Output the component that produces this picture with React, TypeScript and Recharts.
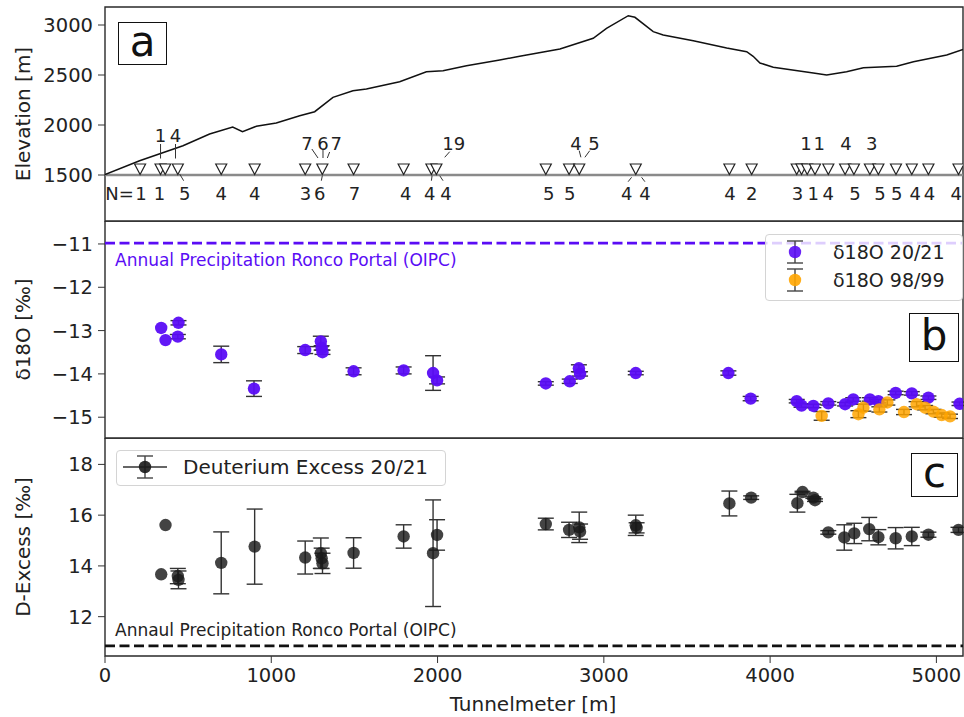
import React from 'react';
import {
  ComposedChart,
  Line,
  Scatter,
  XAxis,
  YAxis,
  ReferenceLine,
  ReferenceArea,
  ErrorBar,
} from 'recharts';

const FONT = '"DejaVu Sans", Verdana, sans-serif';
const INK = '#222';
const PURPLE = '#5a0cf5';
const ORANGE = '#ffa500';

const X_MAX = 5160;
const X_TICKS = [0, 1000, 2000, 3000, 4000, 5000];
const ELEV_TICKS = [1500, 2000, 2500, 3000];
const D18O_TICKS = [-15, -14, -13, -12, -11];
const DEX_TICKS = [12, 14, 16, 18];

// terrain surface above the tunnel axis [m a.s.l.]
const profile = [
  { x: 0, y: 1505 }, { x: 208, y: 1643 }, { x: 469, y: 1793 }, { x: 629, y: 1910 },
  { x: 768, y: 1980 }, { x: 827, y: 1933 }, { x: 910, y: 1987 }, { x: 1030, y: 2020 },
  { x: 1171, y: 2093 }, { x: 1261, y: 2133 }, { x: 1371, y: 2277 }, { x: 1491, y: 2343 },
  { x: 1572, y: 2360 }, { x: 1772, y: 2433 }, { x: 1933, y: 2533 }, { x: 2033, y: 2543 },
  { x: 2174, y: 2593 }, { x: 2374, y: 2650 }, { x: 2494, y: 2687 }, { x: 2736, y: 2760 },
  { x: 2936, y: 2867 }, { x: 3016, y: 2967 }, { x: 3147, y: 3093 }, { x: 3187, y: 3077 },
  { x: 3297, y: 2933 }, { x: 3357, y: 2900 }, { x: 3538, y: 2843 }, { x: 3739, y: 2770 },
  { x: 3859, y: 2733 }, { x: 3898, y: 2687 }, { x: 3939, y: 2620 }, { x: 4019, y: 2577 },
  { x: 4260, y: 2520 }, { x: 4340, y: 2500 }, { x: 4460, y: 2533 }, { x: 4561, y: 2573 },
  { x: 4761, y: 2587 }, { x: 4862, y: 2633 }, { x: 5062, y: 2700 }, { x: 5160, y: 2755 },
];

// sampling sites (tunnelmeter)
const sites = [
  211, 334, 362, 438, 699, 900, 1204, 1307, 1495, 1796, 1963, 1993, 2651, 2791, 2852, 3192,
  3755, 3889, 4160, 4189, 4223, 4270, 4350, 4451, 4504, 4600, 4651, 4757, 4852, 4952, 5133,
];
const SITE_Y = 1560;

// number of samples per site
const countsBelow = [
  { x: 87, t: 'N=' }, { x: 217, t: '1' }, { x: 328, t: '1' }, { x: 479, t: '5' },
  { x: 699, t: '4' }, { x: 900, t: '4' }, { x: 1206, t: '3' }, { x: 1291, t: '6' },
  { x: 1501, t: '7' }, { x: 1808, t: '4' }, { x: 1953, t: '4' }, { x: 2050, t: '4' },
  { x: 2669, t: '5' }, { x: 2795, t: '5' }, { x: 3137, t: '4' }, { x: 3247, t: '4' },
  { x: 3759, t: '4' }, { x: 3889, t: '2' }, { x: 4164, t: '3' }, { x: 4260, t: '1' },
  { x: 4350, t: '4' }, { x: 4510, t: '5' }, { x: 4661, t: '5' }, { x: 4761, t: '5' },
  { x: 4872, t: '4' }, { x: 4958, t: '4' }, { x: 5120, t: '4' },
];
const countsAboveHigh = [{ x: 334, t: '1' }, { x: 424, t: '4' }];
const countsAbove = [
  { x: 1214, t: '7' }, { x: 1311, t: '6' }, { x: 1391, t: '7' }, { x: 2097, t: '19' },
  { x: 2832, t: '4' }, { x: 2940, t: '5' }, { x: 4215, t: '1' }, { x: 4296, t: '1' },
  { x: 4456, t: '4' }, { x: 4611, t: '3' },
];
const ROW_BELOW = 1320;
const ROW_ABOVE = 1820;
const ROW_ABOVE_HIGH = 1900;

// leader lines [x1, y1, x2, y2]
const leaders = [
  [334, 1810, 334, 1665], [424, 1810, 424, 1665],
  [1244, 1760, 1281, 1670], [1311, 1760, 1311, 1670], [1351, 1730, 1337, 1670],
  [2073, 1733, 2043, 1677], [2852, 1743, 2862, 1677], [2915, 1743, 2886, 1677],
  [449, 1510, 473, 1443], [1307, 1493, 1301, 1443], [1967, 1493, 1963, 1443],
  [2013, 1493, 2033, 1443], [3167, 1477, 3146, 1433], [3227, 1477, 3247, 1433],
];

// d18O 2020/21 [permil], e = std
const d18O2021 = [
  { x: 442, y: -12.82, e: 0.05 }, { x: 438, y: -13.14, e: 0.05 }, { x: 699, y: -13.55, e: 0.19 },
  { x: 896, y: -14.34, e: 0.18 }, { x: 1204, y: -13.45, e: 0.08 }, { x: 1298, y: -13.25, e: 0.12 },
  { x: 1303, y: -13.4, e: 0.05 }, { x: 1308, y: -13.5, e: 0.05 }, { x: 1495, y: -13.94, e: 0.08 },
  { x: 1796, y: -13.92, e: 0.08 }, { x: 1973, y: -13.98, e: 0.4 }, { x: 1997, y: -14.15, e: 0.08 },
  { x: 2651, y: -14.22, e: 0.04 }, { x: 2795, y: -14.17, e: 0.05 }, { x: 2850, y: -13.87, e: 0.08 },
  { x: 2857, y: -14.0, e: 0.05 }, { x: 3192, y: -13.98, e: 0.04 }, { x: 3749, y: -13.98, e: 0.05 },
  { x: 3883, y: -14.57, e: 0.05 }, { x: 4160, y: -14.63, e: 0.04 }, { x: 4189, y: -14.73, e: 0.04 },
  { x: 4260, y: -14.74, e: 0.04 }, { x: 4350, y: -14.68, e: 0.04 }, { x: 4451, y: -14.7, e: 0.04 },
  { x: 4500, y: -14.59, e: 0.04 }, { x: 4600, y: -14.59, e: 0.04 }, { x: 4651, y: -14.63, e: 0.04 },
  { x: 4755, y: -14.44, e: 0.04 }, { x: 4852, y: -14.45, e: 0.04 }, { x: 4952, y: -14.55, e: 0.04 },
  { x: 5139, y: -14.69, e: 0.04 },
];
const d18O2021Single = [{ x: 338, y: -12.94 }, { x: 364, y: -13.22 }];

// d18O 1998/99
const d18O9899 = [
  { x: 4310, y: -14.97, e: 0.1 }, { x: 4531, y: -14.93, e: 0.08 }, { x: 4561, y: -14.78, e: 0.08 },
  { x: 4657, y: -14.82, e: 0.06 }, { x: 4705, y: -14.66, e: 0.06 }, { x: 4805, y: -14.88, e: 0.06 },
  { x: 4881, y: -14.7, e: 0.06 }, { x: 4932, y: -14.78, e: 0.05 }, { x: 4982, y: -14.87, e: 0.05 },
  { x: 5032, y: -14.95, e: 0.05 }, { x: 5082, y: -14.98, e: 0.05 },
];

// deuterium excess 2020/21
const dex2021 = [
  { x: 438, y: 13.6, e: 0.3 }, { x: 442, y: 13.45, e: 0.35 }, { x: 699, y: 14.12, e: 1.22 },
  { x: 900, y: 14.76, e: 1.48 }, { x: 1204, y: 14.33, e: 0.65 }, { x: 1298, y: 14.5, e: 0.6 },
  { x: 1303, y: 14.3, e: 0.4 }, { x: 1308, y: 14.1, e: 0.4 }, { x: 1495, y: 14.51, e: 0.6 },
  { x: 1796, y: 15.16, e: 0.46 }, { x: 1973, y: 14.5, e: 2.1 }, { x: 1997, y: 15.22, e: 0.6 },
  { x: 2651, y: 15.65, e: 0.23 }, { x: 2791, y: 15.42, e: 0.3 }, { x: 2852, y: 15.52, e: 0.6 },
  { x: 2857, y: 15.35, e: 0.3 }, { x: 3192, y: 15.6, e: 0.4 }, { x: 3197, y: 15.5, e: 0.2 },
  { x: 3755, y: 16.46, e: 0.49 }, { x: 3886, y: 16.69, e: 0.07 }, { x: 4164, y: 16.47, e: 0.35 },
  { x: 4195, y: 16.91, e: 0.03 }, { x: 4260, y: 16.69, e: 0.03 }, { x: 4270, y: 16.59, e: 0.05 },
  { x: 4350, y: 15.32, e: 0.07 }, { x: 4446, y: 15.12, e: 0.5 }, { x: 4506, y: 15.28, e: 0.4 },
  { x: 4596, y: 15.45, e: 0.46 }, { x: 4651, y: 15.13, e: 0.3 }, { x: 4755, y: 15.09, e: 0.42 },
  { x: 4852, y: 15.16, e: 0.36 }, { x: 4952, y: 15.23, e: 0.1 }, { x: 5133, y: 15.42, e: 0.1 },
];
const dex2021Single = [{ x: 338, y: 13.67 }, { x: 364, y: 15.61 }];

const OIPC_D18O = -10.98;
const OIPC_DEX = 10.85;

const ELEV_DOMAIN = [1040, 3180];
const D18O_DOMAIN = [-15.48, -10.47];
const DEX_DOMAIN = [10.45, 19.04];

const minus = (v: number) => (v < 0 ? '\u2212' + Math.abs(v) : String(v));

const tickStyle = { fontSize: 19.5, fill: INK, fontFamily: FONT };

const yLabel = (text: string) => (props: any) => {
  const vb = props.viewBox || {};
  const cx = (vb.x || 0) + 22.5;
  const cy = (vb.y || 0) + (vb.height || 0) / 2;
  return (
    <text x={cx} y={cy} transform={`rotate(-90 ${cx} ${cy})`} textAnchor="middle"
      dominantBaseline="central" fontSize={20} fill={INK} fontFamily={FONT}>{text}</text>
  );
};

const Dot = (fill: string, opacity: number) => (p: any) =>
  <circle cx={p.cx} cy={p.cy} r={6.2} fill={fill} fillOpacity={opacity} />;

const Tri = (p: any) => (
  <polygon points={`${p.cx - 5.5},${p.cy - 5} ${p.cx + 5.5},${p.cy - 5} ${p.cx},${p.cy + 5.5}`}
    fill="#fff" stroke={INK} strokeWidth={1.2} />
);

const CountText = (p: any) => (
  <text x={p.cx} y={p.cy} textAnchor="middle" dominantBaseline="central" fontSize={18}
    fill={INK} fontFamily={FONT}>{p.payload.t}</text>
);

const frame = (lo: number, hi: number) => (
  <ReferenceArea x1={0} x2={X_MAX} y1={lo} y2={hi} fill="none" stroke="#2a2a2a"
    strokeWidth={1.4} ifOverflow="visible" />
);

const PanelTag = ({ t, left, top, w, h }: any) => (
  <div style={{
    position: 'absolute', left, top, width: w, height: h, boxSizing: 'border-box',
    border: '1.8px solid #111', background: '#fff', fontSize: 42, lineHeight: `${h - 6}px`,
    textAlign: 'center', color: '#111', fontFamily: FONT,
  }}>{t}</div>
);

const ErrMarker = ({ color, line }: { color: string; line?: boolean }) => (
  <svg width={46} height={26} style={{ display: 'block' }}>
    {line ? <line x1={1} y1={13} x2={45} y2={13} stroke="#333" strokeWidth={1.6} /> : null}
    <line x1={23} y1={2} x2={23} y2={24} stroke="#444" strokeWidth={1.4} />
    <line x1={15} y1={2} x2={31} y2={2} stroke="#444" strokeWidth={1.4} />
    <line x1={15} y1={24} x2={31} y2={24} stroke="#444" strokeWidth={1.4} />
    <circle cx={23} cy={13} r={6.2} fill={color} fillOpacity={0.9} />
  </svg>
);

export default function App() {
  const margin = { left: 0, right: 1 };
  return (
    <div style={{ position: 'absolute', left: 0, top: 0, width: 964, height: 717, background: '#fff', fontFamily: FONT }}>
      {/* a: elevation profile */}
      <div style={{ position: 'absolute', left: 0, top: 0 }}>
        <ComposedChart width={964} height={222} margin={{ ...margin, top: 7, bottom: 1 }}>
          <XAxis dataKey="x" type="number" domain={[0, X_MAX]} ticks={X_TICKS} hide allowDataOverflow />
          <YAxis dataKey="y" type="number" domain={ELEV_DOMAIN} ticks={ELEV_TICKS} width={105}
            allowDataOverflow axisLine={false} tickSize={7} tickMargin={5} tick={tickStyle}
            tickLine={{ stroke: '#333' }} label={yLabel('Elevation [m]')} />
          <ReferenceLine y={1500} stroke="#8a8a8a" strokeWidth={2.6} />
          <Line data={profile} dataKey="y" type="linear" stroke="#111" strokeWidth={1.5}
            dot={false} isAnimationActive={false} />
          {leaders.map((s, i) => (
            <ReferenceLine key={i} segment={[{ x: s[0], y: s[1] }, { x: s[2], y: s[3] }]}
              stroke="#333" strokeWidth={1} />
          ))}
          <Scatter data={sites.map((x) => ({ x, y: SITE_Y }))} shape={Tri} isAnimationActive={false} />
          <Scatter data={countsBelow.map((d) => ({ ...d, y: ROW_BELOW }))} shape={CountText} isAnimationActive={false} />
          <Scatter data={countsAbove.map((d) => ({ ...d, y: ROW_ABOVE }))} shape={CountText} isAnimationActive={false} />
          <Scatter data={countsAboveHigh.map((d) => ({ ...d, y: ROW_ABOVE_HIGH }))} shape={CountText} isAnimationActive={false} />
          {frame(ELEV_DOMAIN[0], ELEV_DOMAIN[1])}
        </ComposedChart>
      </div>

      {/* b: d18O */}
      <div style={{ position: 'absolute', left: 0, top: 221 }}>
        <ComposedChart width={964} height={218} margin={{ ...margin, top: 0, bottom: 1 }}>
          <XAxis dataKey="x" type="number" domain={[0, X_MAX]} ticks={X_TICKS} hide allowDataOverflow />
          <YAxis dataKey="y" type="number" domain={D18O_DOMAIN} ticks={D18O_TICKS} width={105}
            allowDataOverflow axisLine={false} tickSize={7} tickMargin={5} tick={tickStyle}
            tickFormatter={minus} tickLine={{ stroke: '#333' }} label={yLabel('δ18O [‰]')} />
          <ReferenceLine y={OIPC_D18O} stroke={PURPLE} strokeWidth={2.8} strokeDasharray="10 4.5"
            label={(p: any) => (
              <text x={(p.viewBox?.x || 105) + 10} y={(p.viewBox?.y || 0) + 16.5} dominantBaseline="central"
                fontSize={17} fill={PURPLE} fontFamily={FONT}>Annual Precipitation Ronco Portal (OIPC)</text>
            )} />
          <Scatter data={d18O2021Single} shape={Dot(PURPLE, 0.95)} isAnimationActive={false} />
          <Scatter data={d18O2021} shape={Dot(PURPLE, 0.95)} isAnimationActive={false}>
            <ErrorBar dataKey="e" direction="y" width={8} stroke="#333" strokeWidth={1.4} isAnimationActive={false} />
          </Scatter>
          <Scatter data={d18O9899} shape={Dot(ORANGE, 0.85)} isAnimationActive={false}>
            <ErrorBar dataKey="e" direction="y" width={8} stroke="#333" strokeWidth={1.4} isAnimationActive={false} />
          </Scatter>
          {frame(D18O_DOMAIN[0], D18O_DOMAIN[1])}
        </ComposedChart>
      </div>

      {/* c: deuterium excess */}
      <div style={{ position: 'absolute', left: 0, top: 438 }}>
        <ComposedChart width={964} height={279} margin={{ ...margin, top: 0, bottom: 0 }}>
          <XAxis dataKey="x" type="number" domain={[0, X_MAX]} ticks={X_TICKS} height={61}
            allowDataOverflow axisLine={false} tickSize={7} tickMargin={5} tick={tickStyle}
            tickLine={{ stroke: '#333' }}
            label={(p: any) => {
              const vb = p.viewBox || {};
              return (
                <text x={(vb.x || 0) + (vb.width || 0) / 2 - 1} y={(vb.y || 0) + 48} textAnchor="middle"
                  dominantBaseline="central" fontSize={20} fill={INK} fontFamily={FONT}>Tunnelmeter [m]</text>
              );
            }} />
          <YAxis dataKey="y" type="number" domain={DEX_DOMAIN} ticks={DEX_TICKS} width={105}
            allowDataOverflow axisLine={false} tickSize={7} tickMargin={5} tick={tickStyle}
            tickLine={{ stroke: '#333' }} label={yLabel('D-Excess [‰]')} />
          <ReferenceLine y={OIPC_DEX} stroke="#111" strokeWidth={2.8} strokeDasharray="10 4.5"
            label={(p: any) => (
              <text x={(p.viewBox?.x || 105) + 10} y={(p.viewBox?.y || 0) - 15.5} dominantBaseline="central"
                fontSize={17} fill={INK} fontFamily={FONT}>Annaul Precipitation Ronco Portal (OIPC)</text>
            )} />
          <Scatter data={dex2021Single} shape={Dot('#1a1a1a', 0.82)} isAnimationActive={false} />
          <Scatter data={dex2021} shape={Dot('#1a1a1a', 0.82)} isAnimationActive={false}>
            <ErrorBar dataKey="e" direction="y" width={8} stroke="#333" strokeWidth={1.4} isAnimationActive={false} />
          </Scatter>
          {frame(DEX_DOMAIN[0], DEX_DOMAIN[1])}
        </ComposedChart>
      </div>

      <PanelTag t="a" left={118} top={22} w={49} h={43} />
      <PanelTag t="b" left={909} top={313} w={50} h={49} />
      <PanelTag t="c" left={911} top={453} w={47} h={44} />

      {/* legend b */}
      <div style={{
        position: 'absolute', left: 765, top: 234, width: 198, height: 67, boxSizing: 'border-box',
        border: '1px solid #d4d4d4', borderRadius: 4, background: 'rgba(255,255,255,0.8)',
      }} />
      <div style={{ position: 'absolute', left: 772, top: 239 }}><ErrMarker color={PURPLE} /></div>
      <div style={{ position: 'absolute', left: 772, top: 267 }}><ErrMarker color={ORANGE} /></div>
      <div style={{ position: 'absolute', left: 833, top: 239, lineHeight: '26px', fontSize: 19, color: INK }}>δ18O 20/21</div>
      <div style={{ position: 'absolute', left: 833, top: 267, lineHeight: '26px', fontSize: 19, color: INK }}>δ18O 98/99</div>

      {/* legend c */}
      <div style={{
        position: 'absolute', left: 116, top: 450, width: 330, height: 36, boxSizing: 'border-box',
        border: '1px solid #d4d4d4', borderRadius: 4, background: 'rgba(255,255,255,0.8)',
      }} />
      <div style={{ position: 'absolute', left: 122, top: 454 }}><ErrMarker color="#1a1a1a" line /></div>
      <div style={{ position: 'absolute', left: 183, top: 454, lineHeight: '26px', fontSize: 20, color: INK }}>Deuterium Excess 20/21</div>
    </div>
  );
}
